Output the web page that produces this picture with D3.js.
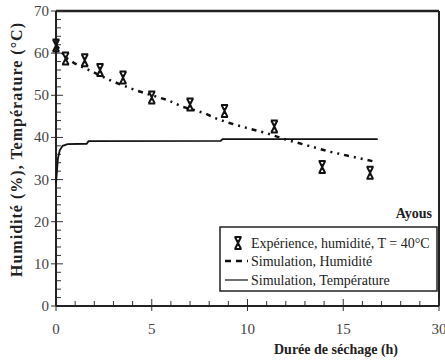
<!DOCTYPE html>
<html><head><meta charset="utf-8">
<script src="https://cdn.jsdelivr.net/npm/d3@7"></script>
<style>body{margin:0;background:#fff}svg{display:block}</style>
</head><body>
<script>
// Data
const expX = [0, 0.5, 1.5, 2.3, 3.5, 5.0, 7.0, 8.8, 11.4, 13.9, 16.4];
const expY = [61.8, 58.7, 58.3, 56.0, 54.2, 49.5, 47.8, 46.3, 42.6, 33.0, 31.6];
const simHumX = [0, 0.5, 1.0, 1.9, 2.9, 4.1, 5.0, 5.8, 6.6, 7.8, 8.3, 9.0, 10.0, 11.0, 12.0, 13.2, 14.3, 15.5, 16.6];
const simHumY = [62.0, 59.0, 57.5, 55.6, 53.4, 51.3, 50.0, 48.9, 47.3, 45.7, 44.6, 43.5, 42.2, 41.0, 39.5, 38.0, 36.6, 35.4, 34.3];
const simTempX = [0, 0.05, 0.1, 0.2, 0.35, 0.6, 1.6, 1.7, 8.6, 8.7, 16.8];
const simTempY = [29, 32, 35, 37, 38, 38.4, 38.5, 39.1, 39.2, 39.6, 39.6];
const xTickVals = [0, 5, 10, 15, 20];
const xTickLabels = ["0", "5", "10", "15", "30"];
const yTickVals = [0, 10, 20, 30, 40, 50, 60, 70];
const legendLabels = ["Expérience, humidité, T = 40°C", "Simulation, Humidité", "Simulation, Température"];

const W = 445, H = 360;
const FONT = '"Liberation Serif", "Times New Roman", serif';
const svg = d3.select("body").append("svg").attr("width", W).attr("height", H);
const x = d3.scaleLinear().domain([0, 20]).range([56, 439]);
const y = d3.scaleLinear().domain([0, 70]).range([306, 11]);

// frame top & right
svg.append("line").attr("x1", x(0)).attr("x2", x(20)).attr("y1", y(70)).attr("y2", y(70)).attr("stroke", "#222").attr("stroke-width", 2.5);
svg.append("line").attr("x1", x(20)).attr("x2", x(20)).attr("y1", y(70)).attr("y2", y(0)).attr("stroke", "#222").attr("stroke-width", 2);

// minor ticks
const g = svg.append("g").attr("stroke", "#333").attr("stroke-width", 1);
d3.range(0, 20.01, 1).forEach(v => {
  const major = v % 5 === 0;
  g.append("line").attr("x1", x(v)).attr("x2", x(v)).attr("y1", y(0) + (major ? 5 : 0)).attr("y2", y(0) - (major ? 7 : 5));
});
d3.range(0, 70.01, 2).forEach(v => {
  const major = v % 10 === 0;
  g.append("line").attr("y1", y(v)).attr("y2", y(v)).attr("x1", x(0) - (major ? 5 : 0)).attr("x2", x(0) + (major ? 7 : 5));
});
// axis lines
svg.append("line").attr("x1", x(0)).attr("x2", x(0)).attr("y1", y(0)).attr("y2", y(70)).attr("stroke", "#222").attr("stroke-width", 2);
svg.append("line").attr("x1", x(0)).attr("x2", x(20)).attr("y1", y(0)).attr("y2", y(0)).attr("stroke", "#222").attr("stroke-width", 2);

// tick labels
svg.append("g").selectAll("text").data(yTickVals).join("text")
  .attr("x", 49).attr("y", d => y(d) + 5).attr("text-anchor", "end")
  .style("font-family", FONT).attr("font-size", 15).attr("fill", "#444").text(d => d);
svg.append("g").selectAll("text").data(xTickVals).join("text")
  .attr("x", d => x(d)).attr("y", 334).attr("text-anchor", "middle")
  .style("font-family", FONT).attr("font-size", 15).attr("fill", "#444").text((d, i) => xTickLabels[i]);

// axis titles
svg.append("text").attr("transform", `translate(22,150) rotate(-90)`).attr("text-anchor", "middle")
  .style("font-family", FONT).attr("font-size", 16).attr("font-weight", "bold").attr("fill", "#222")
  .attr("textLength", 254).attr("lengthAdjust", "spacing")
  .text("Humidité (%), Température (°C)");
svg.append("text").attr("x", 336).attr("y", 354).attr("text-anchor", "middle")
  .style("font-family", FONT).attr("font-size", 14).attr("font-weight", "bold").attr("fill", "#222")
  .text("Durée de séchage (h)");

// lines
const line = d3.line().x(d => x(d[0])).y(d => y(d[1]));
svg.append("path").datum(simTempX.map((v, i) => [v, simTempY[i]])).attr("d", line)
  .attr("fill", "none").attr("stroke", "#111").attr("stroke-width", 1.8);
svg.append("path").datum(simHumX.map((v, i) => [v, simHumY[i]])).attr("d", line)
  .attr("fill", "none").attr("stroke", "#111").attr("stroke-width", 2.5).attr("stroke-dasharray", "5,5,2,5,2,5");

// markers
const markerPath = "M-3.5,-6H3.5M-3.5,6H3.5M-3,-6L3,6M3,-6L-3,6M0,-3V3";
function marker(sel, cx, cy) {
  sel.append("path").attr("transform", `translate(${cx},${cy})`).attr("d", markerPath)
    .attr("fill", "none").attr("stroke", "#111").attr("stroke-width", 2);
}
expX.forEach((v, i) => marker(svg, x(v), y(expY[i])));

// label Ayous
svg.append("text").attr("x", 432).attr("y", 218).attr("text-anchor", "end")
  .style("font-family", FONT).attr("font-size", 14).attr("font-weight", "bold").attr("fill", "#222").text("Ayous");

// legend
svg.append("rect").attr("x", 220).attr("y", 227).attr("width", 217).attr("height", 64)
  .attr("fill", "#fff").attr("stroke", "#222").attr("stroke-width", 1.5);
const ly = [243, 261, 280];
marker(svg, 238, ly[0]);
svg.append("line").attr("x1", 225).attr("x2", 248).attr("y1", ly[1]).attr("y2", ly[1]).attr("stroke", "#111").attr("stroke-width", 2.5).attr("stroke-dasharray", "6,5");
svg.append("line").attr("x1", 225).attr("x2", 248).attr("y1", ly[2]).attr("y2", ly[2]).attr("stroke", "#111").attr("stroke-width", 1.2);
svg.append("g").selectAll("text").data(legendLabels).join("text")
  .attr("x", 251).attr("y", (d, i) => ly[i] + 4.5)
  .style("font-family", FONT).attr("font-size", 14).attr("fill", "#222").text(d => d);
</script>
</body></html>
